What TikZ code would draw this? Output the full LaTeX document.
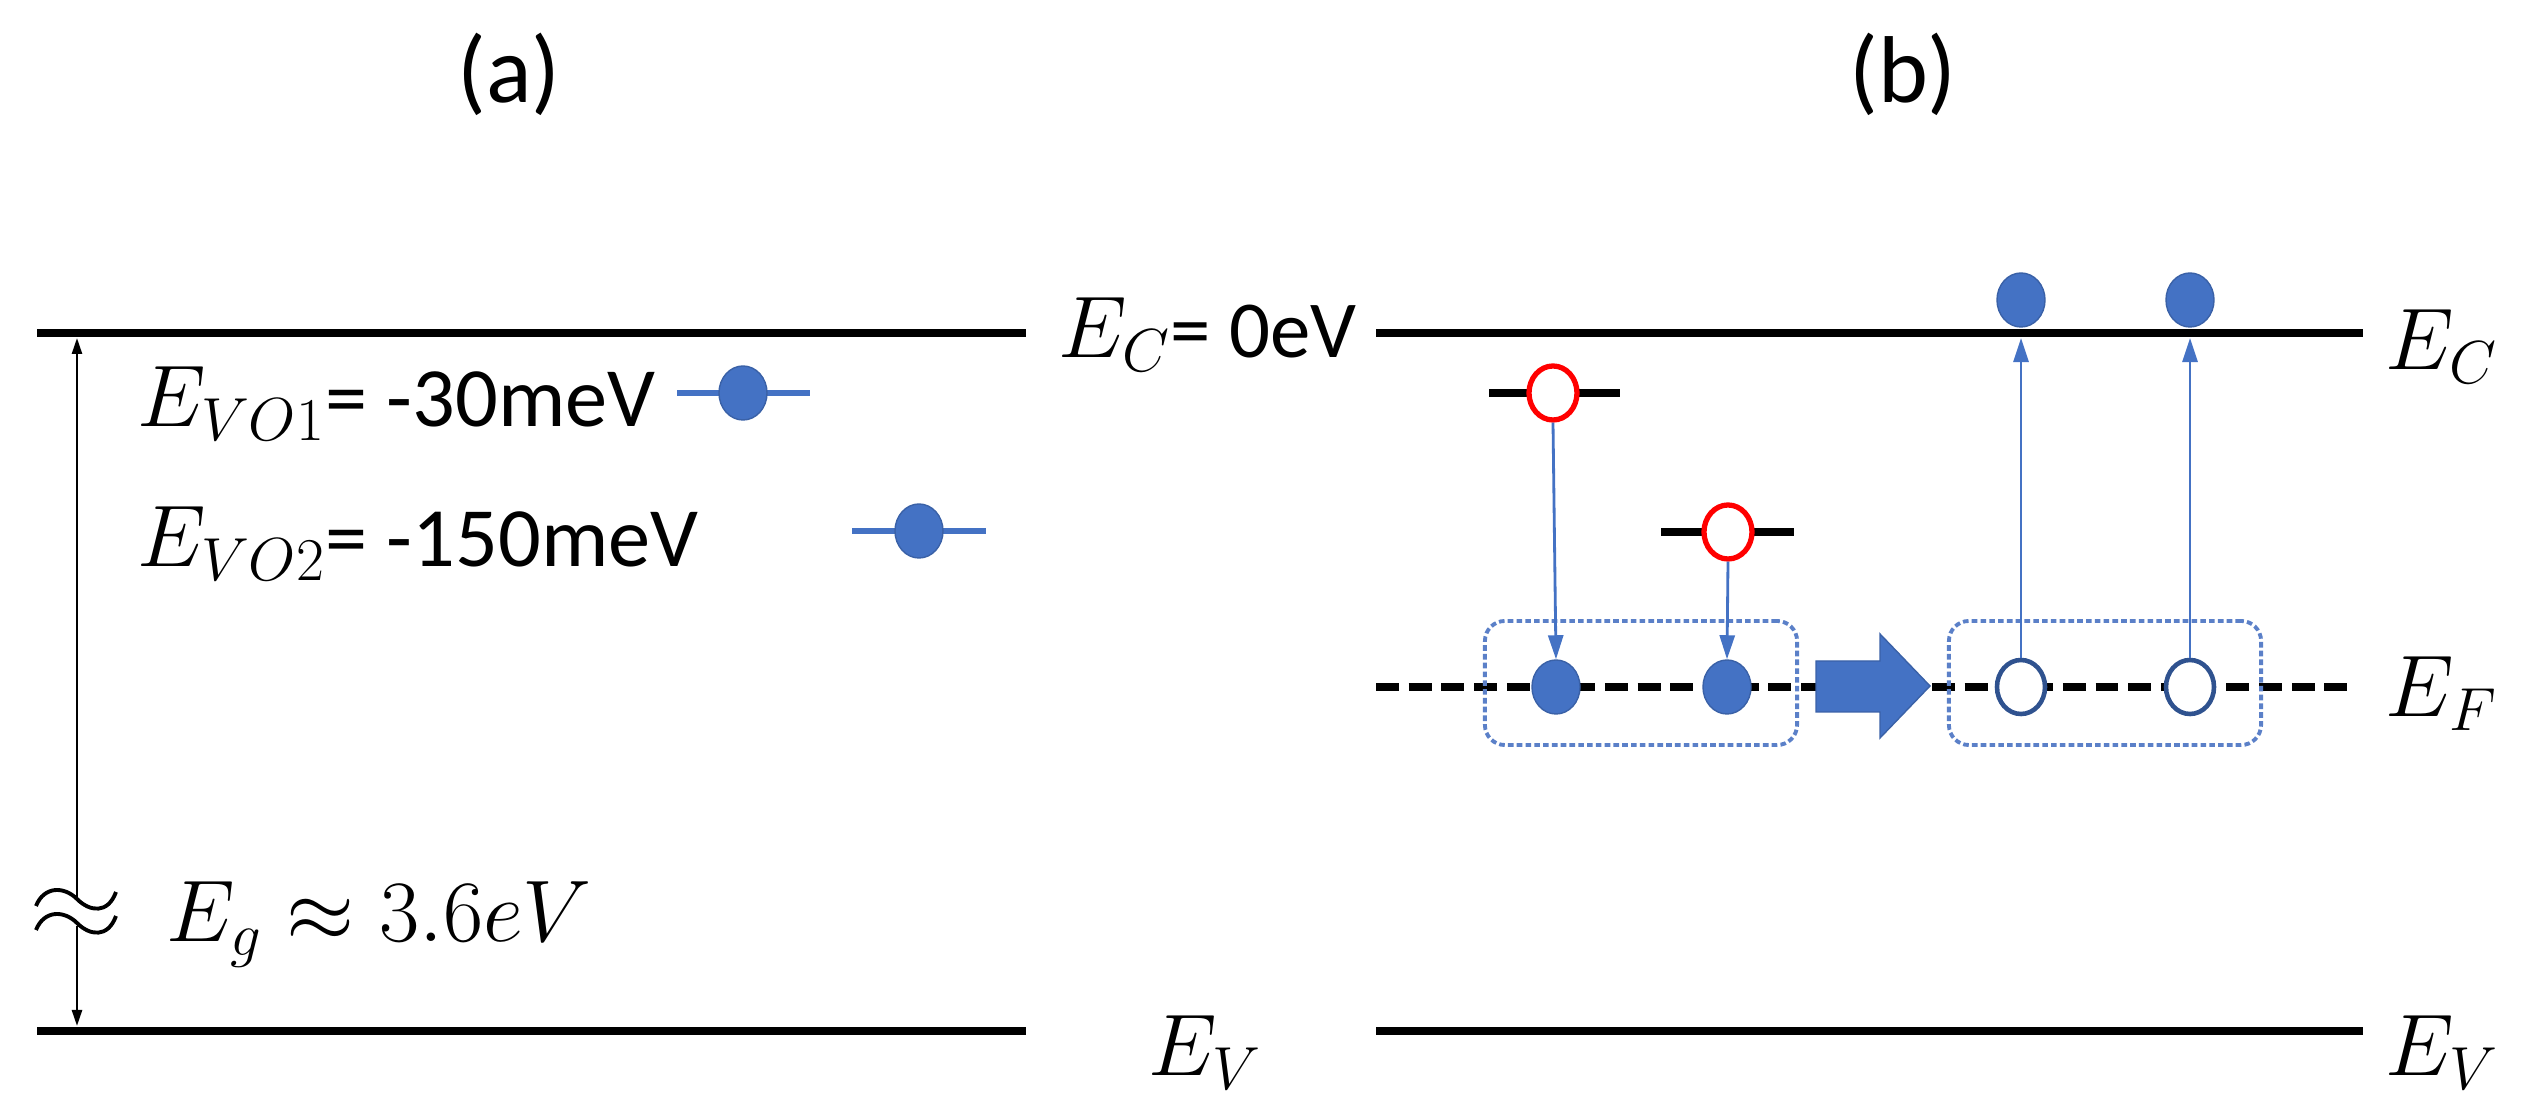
\documentclass[tikz,border=0pt]{standalone}
\usepackage{fontspec}
\setmainfont{Carlito}
\usetikzlibrary{arrows.meta,shapes.geometric}
\definecolor{obl}{HTML}{4472C4}
\definecolor{obd}{HTML}{2F528F}
\definecolor{obx}{HTML}{5B80C8}
\tikzset{
  level/.style={line width=0.08cm,black},
  flevel/.style={line width=0.08cm,black,dash pattern=on 6.5pt off 2.8pt},
  blevel/.style={line width=0.055cm,obl},
  fdot/.style={ellipse,minimum width=0.48cm,minimum height=0.54cm,inner sep=0,fill=obl,draw=obl!85!black,line width=0.4pt},
  odot/.style={ellipse,minimum width=0.48cm,minimum height=0.54cm,inner sep=0,fill=white,draw=obd,line width=1.3pt},
  rdot/.style={ellipse,minimum width=0.48cm,minimum height=0.54cm,inner sep=0,fill=white,draw=red,line width=1.5pt},
  arr/.style={draw=obl,line width=0.8pt,-{Triangle[length=0.24cm,width=0.15cm]}},
  gbox/.style={draw=obx,line width=1.1pt,dash pattern=on 1.6pt off 0.9pt,rounded corners=0.2cm},
  lab/.style={inner sep=0,anchor=base west,font=\fontsize{24pt}{28pt}\selectfont},
  elab/.style={inner sep=0,anchor=base west,font=\fontsize{23pt}{27pt}\selectfont},
  ttl/.style={inner sep=0,font=\fontsize{27pt}{32pt}\selectfont}
}
\begin{document}
\begin{tikzpicture}[x=0.01cm,y=-0.01cm]
\useasboundingbox (0,0) rectangle (2526,1104);
% titles
\node[ttl] (ta) at (509,74) {(a)};
\node[ttl] (tb) at (1903,74) {(b)};
% ---- panel (a)
\coordinate (acL) at (37,333); \coordinate (acR) at (1026,333);
\coordinate (avL) at (37,1031); \coordinate (avR) at (1026,1031);
\draw[level] (acL) -- (acR);
\draw[level] (avL) -- (avR);
\coordinate (gT) at (77,338); \coordinate (gB) at (77,1026);
\draw[black,line width=0.7pt,{Triangle[length=0.16cm,width=0.1cm]}-{Triangle[length=0.16cm,width=0.1cm]}] (gT) -- (gB);
% break mark
\fill[white] (36,898) rectangle (116,926);
\draw[black,line width=1.1pt] (36,906) .. controls (44,886) and (64,886) .. (77,899) .. controls (90,912) and (108,914) .. (116,892);
\draw[black,line width=1.1pt] (36,930) .. controls (44,910) and (64,910) .. (77,923) .. controls (90,936) and (108,938) .. (116,916);
\node[elab] (ecA) at (1058,358) {$E_C$= 0eV};
\node[lab] (e1) at (137,427) {$E_{VO1}$= -30meV};
\node[lab] (e2) at (137,567) {$E_{VO2}$= -150meV};
\node[lab,font=\fontsize{23.5pt}{28pt}\selectfont] (eg) at (166,942) {$E_g \approx 3.6eV$};
\node[elab] (evA) at (1148,1076) {$E_V$};
\coordinate (b1L) at (677,393); \coordinate (b1R) at (810,393);
\coordinate (b2L) at (852,531); \coordinate (b2R) at (986,531);
\draw[blevel] (b1L) -- (b1R);
\draw[blevel] (b2L) -- (b2R);
\node[fdot] (d1) at (743,393) {};
\node[fdot] (d2) at (919,531) {};
% ---- panel (b)
\coordinate (bcL) at (1376,333); \coordinate (bcR) at (2363,333);
\coordinate (bfL) at (1376,687); \coordinate (bfR) at (2355,687);
\coordinate (bvL) at (1376,1031); \coordinate (bvR) at (2363,1031);
\coordinate (bcB) at (1376,338);
\node[fdot] (u1) at (2021,300) {};
\node[fdot] (u2) at (2190,300) {};
\draw[level] (bcL) -- (bcR);
\draw[flevel] (bfL) -- (bfR);
\draw[level] (bvL) -- (bvR);
\node[elab] (ecB) at (2385,370) {$E_C$};
\node[elab] (efB) at (2385,717) {$E_F$};
\node[elab] (evB) at (2385,1076) {$E_V$};
% donor levels
\coordinate (r1L) at (1489,393); \coordinate (r1R) at (1620,393);
\coordinate (r2L) at (1661,532); \coordinate (r2R) at (1794,532);
\draw[level] (r1L) -- (r1R);
\draw[level] (r2L) -- (r2R);
\node[rdot] (r1) at (1553,393) {};
\node[rdot] (r2) at (1728,532) {};
% boxes
\node[gbox,minimum width=3.12cm,minimum height=1.24cm] (bx1) at (1641,683) {};
\node[gbox,minimum width=3.12cm,minimum height=1.24cm] (bx2) at (2105,683) {};
% EF dots
\node[fdot] (f1) at (1556,687) {};
\node[fdot] (f2) at (1727,687) {};
\node[odot] (o1) at (2021,687) {};
\node[odot] (o2) at (2190,687) {};
% transitions
\draw[arr] (r1.south) -- (f1.north);
\draw[arr] (r2.south) -- (f2.north);
\draw[arr] (o1.north) -- (o1.north |- bcB);
\draw[arr] (o2.north) -- (o2.north |- bcB);
% big arrow
\fill[obl,draw=obl!85!black,line width=0.4pt] (1816,661) -- (1880,661) -- (1880,634) -- (1930,686) -- (1880,738) -- (1880,712) -- (1816,712) -- cycle;
\end{tikzpicture}
\end{document}
